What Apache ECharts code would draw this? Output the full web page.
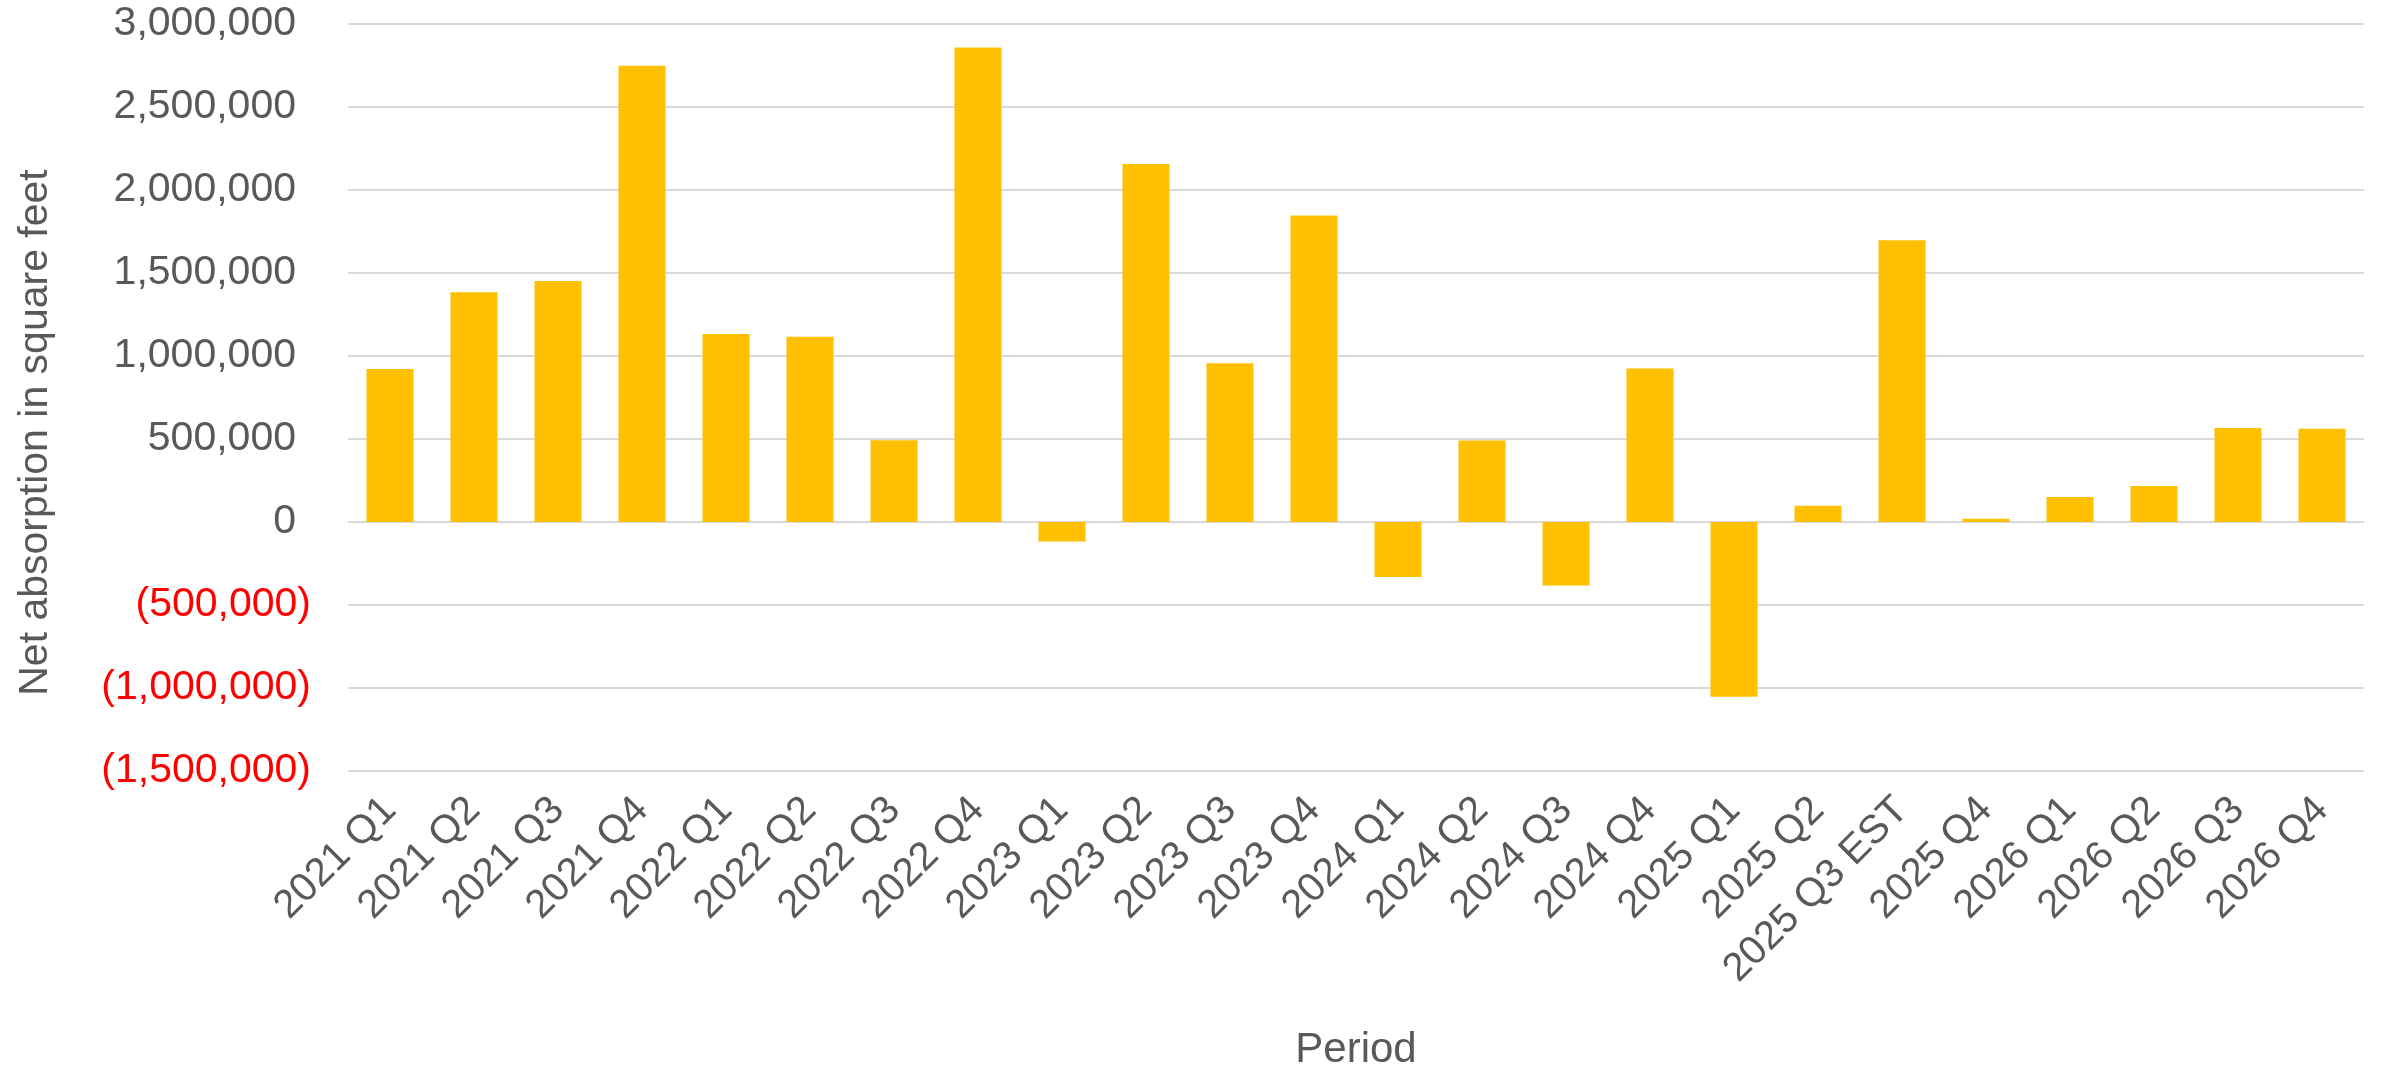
<!DOCTYPE html>
<html>
<head>
<meta charset="utf-8">
<title>Net absorption by quarter</title>
<script src="https://cdn.jsdelivr.net/npm/echarts@6/dist/echarts.min.js"></script>
<style>
  html, body { margin: 0; padding: 0; background: #ffffff; }
  #chart { width: 2384px; height: 1066px; }
</style>
</head>
<body>
<div id="chart"></div>
<script>
// Quarterly periods on the category axis
const periods = [
  '2021 Q1', '2021 Q2', '2021 Q3', '2021 Q4',
  '2022 Q1', '2022 Q2', '2022 Q3', '2022 Q4',
  '2023 Q1', '2023 Q2', '2023 Q3', '2023 Q4',
  '2024 Q1', '2024 Q2', '2024 Q3', '2024 Q4',
  '2025 Q1', '2025 Q2', '2025 Q3 EST', '2025 Q4',
  '2026 Q1', '2026 Q2', '2026 Q3', '2026 Q4'
];

// Net absorption (square feet) for each period
const netAbsorption = [
  922000, 1384000, 1452000, 2748000,
  1133000, 1116000, 493000, 2858000,
  -118000, 2156000, 956000, 1846000,
  -331000, 491000, -382000, 924000,
  -1052000, 98000, 1698000, 19000,
  151000, 217000, 567000, 561000
];

// Value axis range and step
const yMin = -1500000;
const yMax = 3000000;
const yStep = 500000;

const FONT = "'Liberation Sans', Arial, sans-serif";
const TEXT = '#595959';

// Accounting style: thousands separators, negatives in parentheses
function fmtThousands(v) {
  return Math.abs(v).toString().replace(/\B(?=(\d{3})+(?!\d))/g, ',');
}

const chart = echarts.init(document.getElementById('chart'), null, { renderer: 'canvas' });

chart.setOption({
  backgroundColor: '#ffffff',
  animation: false,
  textStyle: { fontFamily: FONT },
  grid: { left: 348, right: 20, top: 24, bottom: 295, containLabel: false, outerBoundsMode: 'none' },
  xAxis: {
    type: 'category',
    data: periods,
    name: 'Period',
    nameLocation: 'middle',
    nameGap: 258,
    nameTextStyle: { color: TEXT, fontSize: 42, fontFamily: FONT },
    axisLine: { show: false, onZero: false },
    axisTick: { show: false },
    axisLabel: {
      rotate: 45,
      interval: 0,
      margin: 33,
      padding: [34, 0, 0, 0],
      color: TEXT,
      fontSize: 40,
      fontFamily: FONT
    }
  },
  yAxis: {
    type: 'value',
    min: yMin,
    max: yMax,
    interval: yStep,
    name: 'Net absorption in square feet',
    nameLocation: 'middle',
    nameRotate: 90,
    nameGap: 292,
    nameTextStyle: { color: TEXT, fontSize: 41, fontFamily: FONT, padding: [0, 70, 0, 0] },
    axisLine: { show: false },
    axisTick: { show: false },
    splitLine: { show: true, lineStyle: { color: '#d9d9d9', width: 2 } },
    axisLabel: {
      margin: 37,
      fontSize: 41,
      fontFamily: FONT,
      formatter: function (v) {
        return v < 0 ? '{neg|(' + fmtThousands(v) + ')}' : '{pos|' + fmtThousands(v) + '}';
      },
      rich: {
        pos: { color: TEXT, fontSize: 41, fontFamily: FONT, padding: [0, 15, 0, 0] },
        neg: { color: '#ff0000', fontSize: 41, fontFamily: FONT }
      }
    }
  },
  series: [{
    type: 'bar',
    data: netAbsorption,
    barCategoryGap: '44%',
    itemStyle: { color: '#FFC000' }
  }]
});
</script>
</body>
</html>
